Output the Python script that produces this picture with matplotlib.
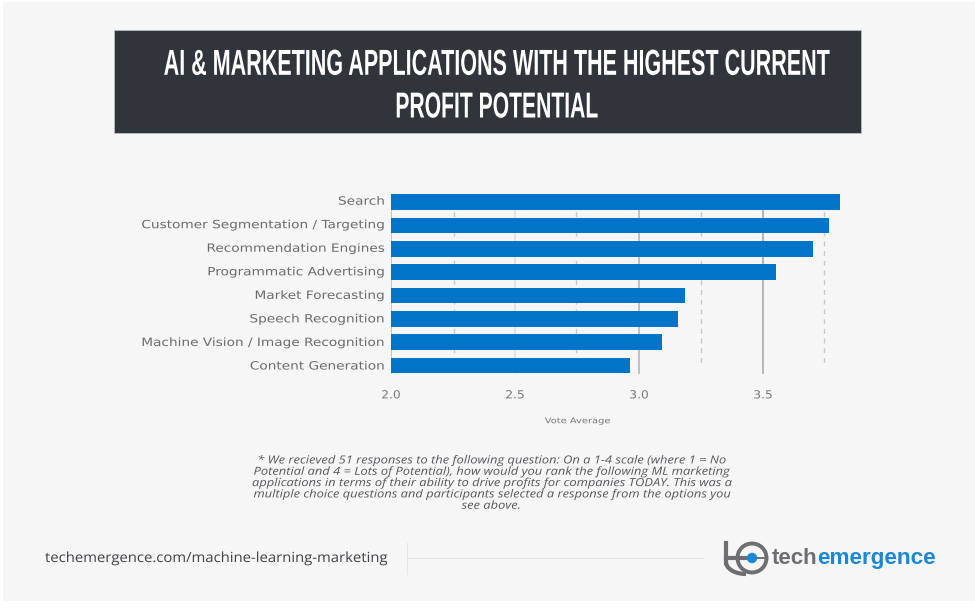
import matplotlib
matplotlib.use("Agg")
import matplotlib.pyplot as plt
from matplotlib.patches import Rectangle, Circle, Arc
from matplotlib.patheffects import AbstractPathEffect
from matplotlib.transforms import Affine2D

categories = ["Search", "Customer Segmentation / Targeting", "Recommendation Engines",
              "Programmatic Advertising", "Market Forecasting", "Speech Recognition",
              "Machine Vision / Image Recognition", "Content Generation"]
vote_avg = [3.81, 3.765, 3.70, 3.553, 3.184, 3.156, 3.093, 2.964]
major_ticks = [2.0, 2.5, 3.0, 3.5]
minor_ticks = [2.254, 2.746, 3.25, 3.745]

title_lines = ["AI & MARKETING APPLICATIONS WITH THE HIGHEST CURRENT", "PROFIT POTENTIAL"]
footnote = ("* We recieved 51 responses to the following question: On a 1-4 scale (where 1 = No\n"
            "Potential and 4 = Lots of Potential), how would you rank the following ML marketing\n"
            "applications in terms of their ability to drive profits for companies TODAY. This was a\n"
            "multiple choice questions and participants selected a response from the options you\n"
            "see above.")
url = "techemergence.com/machine-learning-marketing"


class Stretch(AbstractPathEffect):
    """Squeeze or widen a text around a pivot, no condensed/wide fonts are installed."""
    def __init__(self, sx=1.0, sy=1.0, anchor=0.5, dy=0.0):
        super().__init__()
        self.sx, self.sy, self.anchor, self.dy = sx, sy, anchor, dy

    def draw_path(self, renderer, gc, tpath, affine, rgbFace=None):
        ext = tpath.get_extents()
        pivot = ext.x0 + self.anchor * ext.width
        t = Affine2D().translate(-pivot, 0).scale(self.sx, self.sy).translate(pivot, 0)
        renderer.draw_path(gc, tpath, t + affine + Affine2D().translate(0, self.dy), rgbFace)


W, H = 975, 608
fig = plt.figure(figsize=(W / 100, H / 100), dpi=100, facecolor="white")

# background layer in pixel coordinates
bg = fig.add_axes([0, 0, 1, 1])
bg.set_xlim(0, W)
bg.set_ylim(H, 0)
bg.axis("off")
bg.add_patch(Rectangle((3, 2), 972, 599, fc="#f6f6f6", ec="none"))
bg.add_patch(Rectangle((114, 30), 747, 103, fc="#30343b", ec="#b9bcc0", lw=0.6))
for line, base, sx in zip(title_lines, [74.8, 117.5], [0.775, 0.76]):
    bg.text(496.5, base, line, color="white", ha="center", va="baseline",
            family="Liberation Sans", weight="bold", fontsize=20,
            path_effects=[Stretch(sx=sx, sy=1.3)])

bg.text(491, 483.5, footnote, color="#55585c", ha="center", va="center", style="italic",
        family="Open Sans", fontsize=8, linespacing=1.04,
        path_effects=[Stretch(sx=1.16)])
bg.text(45, 558.5, url, color="#3f4246", ha="left", va="center",
        family="Open Sans", fontsize=10, path_effects=[Stretch(sx=1.07, anchor=0)])
bg.plot([406.5, 406.5], [543, 574], color="#e6e6e6", lw=0.8)
bg.plot([406.5, 703], [558, 558], color="#e4e4e4", lw=0.8)

# logo
grey = "#6d6e71"
blue = "#1b87d6"
bg.plot([726, 726], [543, 563], color=grey, lw=3)
bg.plot([726, 745], [558, 558], color=grey, lw=3)
bg.add_patch(Arc((746, 562), 40, 24, theta1=90, theta2=180, color=grey, lw=3))
bg.add_patch(Circle((752, 558), 14.5, fc="none", ec=grey, lw=2.8))
bg.add_patch(Circle((752, 558), 5.2, fc=blue, ec="none", zorder=3))
bg.plot([745, 767], [558, 558], color=grey, lw=1.4, zorder=1)
bg.text(817, 564, "tech", color=grey, ha="right", va="baseline", weight="bold",
        family="Liberation Sans", fontsize=16)
bg.text(817.5, 564, "emergence", color=blue, ha="left", va="baseline", weight="bold",
        family="Liberation Sans", fontsize=16.2)

# bar chart, axes spans the 8 bar slots on y
left, right = 391, 875
top, bottom = 190.4, 377.2
ax = fig.add_axes([left / W, 1 - bottom / H, (right - left) / W, (bottom - top) / H])
ax.patch.set_alpha(0)
ax.set_xlim(2.0, 2.0 + (right - left) / 248)
ax.set_ylim(7.5, -0.5)
ypos = list(range(len(categories)))

for x, col in zip(major_ticks, ["#b4b4b6", "#dfdfe0", "#b2b2b4", "#a4a4a7"]):
    ax.plot([x, x], [0, 7.34], color=col, lw=1.1, zorder=1)
for x in minor_ticks:
    ax.plot([x, x], [0, 7.07], color="#c9c9cb", lw=1.0, ls=(0, (3.5, 3.5)), zorder=1)

ax.barh(ypos, vote_avg, height=0.675, color="#0275c9", zorder=2)

for s in ax.spines.values():
    s.set_visible(False)
ax.tick_params(length=0)
ax.set_yticks(ypos)
ax.set_yticklabels(categories, family="DejaVu Sans", fontsize=8.2, color="#6a6c70")
ax.tick_params(axis="y", pad=4.5)
# labels sit a bit above the bars at the top, level with them at the bottom
for i, lab in enumerate(ax.get_yticklabels()):
    lab.set_path_effects([Stretch(sx=1.2, anchor=1.0, dy=1.4 * (1 - i / 7))])
ax.set_xticks(major_ticks)
ax.set_xticklabels(["2.0", "2.5", "3.0", "3.5"], family="DejaVu Sans", fontsize=8,
                   color="#77797d")
ax.tick_params(axis="x", pad=9.5)
for lab in ax.get_xticklabels():
    lab.set_path_effects([Stretch(sx=1.1)])
bg.text(577.5, 420.7, "Vote Average", color="#77797d", ha="center", va="center",
        family="DejaVu Sans", fontsize=5.6, path_effects=[Stretch(sx=1.27)])

fig.savefig("out.png", dpi=100)
